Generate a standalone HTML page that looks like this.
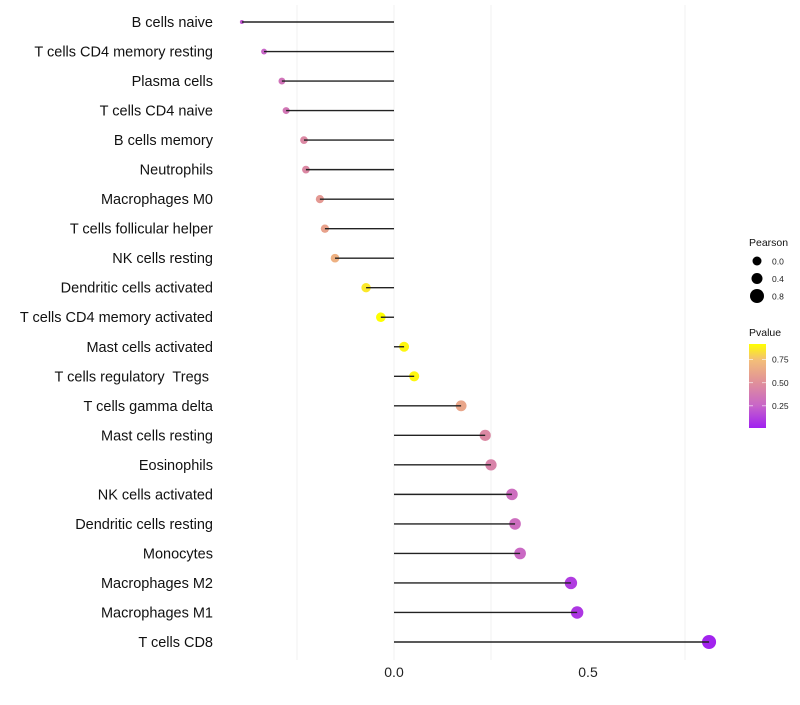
<!DOCTYPE html>
<html><head><meta charset="utf-8"><style>
body{margin:0;background:#fff;font-family:"Liberation Sans",sans-serif;}
svg text{font-family:"Liberation Sans",sans-serif;white-space:pre;}
</style></head><body>
<svg id="c" width="800" height="700">
<defs><linearGradient id="pg" x1="0" y1="1" x2="0" y2="0">
<stop offset="0" stop-color="#a020f0"/><stop offset="0.27" stop-color="#c866c8"/>
<stop offset="0.54" stop-color="#e0909a"/><stop offset="0.81" stop-color="#f3be78"/>
<stop offset="1" stop-color="#ffff00"/></linearGradient></defs>
<g id="grid"></g><g id="marks"></g><g id="labels"></g><g id="legend"></g>
</svg>
<script>
const categories=["B cells naive","T cells CD4 memory resting","Plasma cells","T cells CD4 naive","B cells memory","Neutrophils","Macrophages M0","T cells follicular helper","NK cells resting","Dendritic cells activated","T cells CD4 memory activated","Mast cells activated","T cells regulatory  Tregs ","T cells gamma delta","Mast cells resting","Eosinophils","NK cells activated","Dendritic cells resting","Monocytes","Macrophages M2","Macrophages M1","T cells CD8"];
const pearson=[-0.392,-0.335,-0.289,-0.278,-0.232,-0.227,-0.191,-0.178,-0.152,-0.072,-0.034,0.026,0.052,0.173,0.235,0.250,0.304,0.312,0.325,0.456,0.472,0.812];
const pvalue=[0.2,0.25,0.33,0.35,0.45,0.45,0.55,0.6,0.68,0.86,0.92,0.9,0.9,0.62,0.45,0.42,0.3,0.3,0.27,0.1,0.08,0.01];
const xTicks=[0,0.5];const xTickLabels=["0.0","0.5"];const gridVals=[-0.25,0,0.25,0.75];
const sizeLegend=[0.0,0.4,0.8];const colorTicks=[0.25,0.5,0.75];
const NS="http://www.w3.org/2000/svg";
const x=v=>394+v*388;const y=i=>22+i*(620/21);
function rad(r){const k=[[-0.4,3.5],[-0.33,9],[-0.25,14],[-0.1,21],[0.8,49]];
if(r<=k[0][0])return Math.sqrt(k[0][1]);
for(let i=1;i<k.length;i++){if(r<=k[i][0]){const t=(r-k[i-1][0])/(k[i][0]-k[i-1][0]);return Math.sqrt(k[i-1][1]+t*(k[i][1]-k[i-1][1]));}}
return Math.sqrt(49+31*(r-0.8));}
const stops=[[0,[160,32,240]],[0.25,[200,102,200]],[0.5,[224,144,154]],[0.75,[243,190,120]],[0.92,[255,255,0]]];
function col(p){p=Math.max(0,Math.min(0.92,p));for(let k=1;k<stops.length;k++){if(p<=stops[k][0]){const[a,ca]=stops[k-1],[b,cb]=stops[k];const t=(p-a)/(b-a);return "rgb("+ca.map((c,j)=>Math.round(c+(cb[j]-c)*t)).join(",")+")";}}return "rgb(255,255,0)";}
function el(t,at,parent,txt){const e=document.createElementNS(NS,t);for(const k in at)e.setAttribute(k,at[k]);if(txt!=null)e.textContent=txt;parent.appendChild(e);return e;}
const g=document.getElementById('grid'),m=document.getElementById('marks'),L=document.getElementById('labels'),lg=document.getElementById('legend');
gridVals.forEach(v=>{const l=el('line',{x1:x(v),x2:x(v),y1:5,y2:660,stroke:'#f0f0f0','stroke-width':1},g);

});
xTicks.forEach((v,i)=>{const t=el('text',{x:x(v),y:677,'text-anchor':'middle','font-size':14,fill:'#222'},L,xTickLabels[i]);

});
categories.forEach((c,i)=>{const t=el('text',{x:213,y:y(i)+5,'text-anchor':'end','font-size':14.5,fill:'#111'},L,c);


const d=el('circle',{cx:x(pearson[i]),cy:y(i),r:rad(pearson[i]),fill:col(pvalue[i])},m);


const ln=el('line',{x1:x(0),x2:x(pearson[i]),y1:y(i),y2:y(i),stroke:'#222','stroke-width':1.4},m);

});
el('text',{x:749,y:246,'font-size':10.5,fill:'#111'},lg,'Pearson');
sizeLegend.forEach((v,i)=>{const cy=261+i*17.5;const c=el('circle',{cx:757,cy:cy,r:[4.5,5.5,7][i],fill:'#000'},lg);


const t=el('text',{x:772,y:cy+3.5,'font-size':8.5,fill:'#222'},lg,v.toFixed(1));

});
el('text',{x:749,y:336,'font-size':10.5,fill:'#111'},lg,'Pvalue');
const bar=el('rect',{x:749,y:344,width:17,height:84,fill:'url(#pg)'},lg);


colorTicks.forEach(v=>{const cy=428-(v-0.01)/0.91*84;
el('line',{x1:749,x2:753,y1:cy,y2:cy,stroke:'#fff','stroke-width':0.6},lg);
el('line',{x1:762,x2:766,y1:cy,y2:cy,stroke:'#fff','stroke-width':0.6},lg);
const t=el('text',{x:772,y:cy+3,'font-size':8.5,fill:'#222'},lg,v.toFixed(2));

});
</script>
</body></html>
